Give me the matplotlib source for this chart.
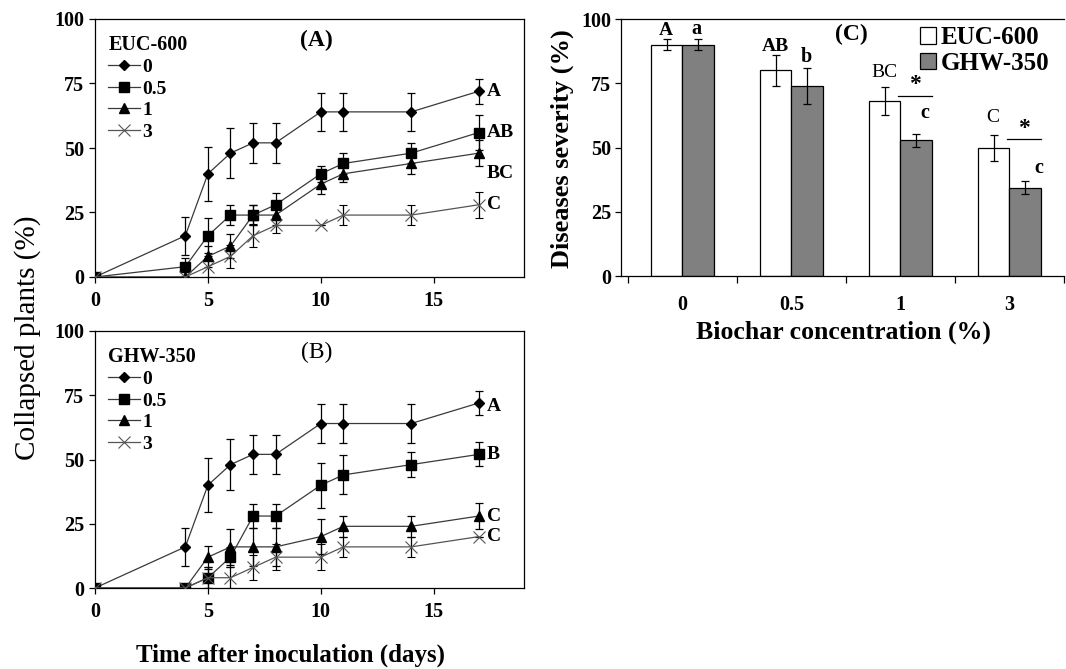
import matplotlib
matplotlib.use('Agg')
import matplotlib.pyplot as plt
from matplotlib.lines import Line2D
from matplotlib.patches import Patch
import numpy as np

plt.rcParams['font.family'] = ['Liberation Serif', 'DejaVu Serif']
plt.rcParams['font.weight'] = 'bold'
plt.rcParams['axes.linewidth'] = 0.9

# ---------------- data ----------------
days = [0, 4, 5, 6, 7, 8, 10, 11, 14, 17]
dose_labels = ['0', '0.5', '1', '3']

# EUC-600 (panel A), collapsed plants (%)
euc_0 = [0, 16, 40, 48, 52, 52, 64, 64, 64, 72]
euc_0_err = [0, 7.3, 10.5, 9.8, 7.7, 7.7, 7.5, 7.5, 7.5, 4.8]
euc_05 = [0, 4, 16, 24, 24, 28, 40, 44, 48, 56]
euc_05_err = [0, 3.5, 6.8, 4, 4, 4.5, 3, 4, 4, 6.6]
euc_1 = [0, 0, 8, 12, 24, 24, 36, 40, 44, 48]
euc_1_err = [0, 0, 4, 4.5, 4, 4, 3.7, 3, 4, 5]
euc_3 = [0, 0, 4, 8, 16, 20, 20, 24, 24, 28]
euc_3_err = [0, 0, 4, 4.5, 4.5, 3, 0, 4, 4, 5]
euc_letters = ['A', 'AB', 'BC', 'C']

# GHW-350 (panel B), collapsed plants (%)
ghw_0 = [0, 16, 40, 48, 52, 52, 64, 64, 64, 72]
ghw_0_err = [0, 7.3, 10.5, 9.8, 7.7, 7.7, 7.5, 7.5, 7.5, 4.8]
ghw_05 = [0, 0, 4, 12, 28, 28, 40, 44, 48, 52]
ghw_05_err = [0, 0, 4, 4, 4.5, 4.5, 8.8, 7.6, 5, 4.7]
ghw_1 = [0, 0, 12, 16, 16, 16, 20, 24, 24, 28]
ghw_1_err = [0, 0, 4.5, 7, 7.5, 7.5, 6.7, 4, 4, 5]
ghw_3 = [0, 0, 4, 4, 8, 12, 12, 16, 16, 20]
ghw_3_err = [0, 0, 4, 4, 4.7, 5, 5, 4, 4, 0]
ghw_letters = ['A', 'B', 'C', 'C']

# Panel C, disease severity (%)
conc_labels = ['0', '0.5', '1', '3']
sev_euc = [90, 80, 68, 49.8]
sev_euc_err = [2.2, 6, 5.5, 5]
sev_ghw = [90, 74, 52.8, 34.4]
sev_ghw_err = [2.2, 7, 2.6, 2.6]
sev_euc_letters = ['A', 'AB', 'BC', 'C']
sev_ghw_letters = ['a', 'b', 'c', 'c']
star_flags = [False, False, True, True]

# ---------------- figure ----------------
W, H = 1066, 669
fig = plt.figure(figsize=(W / 100, H / 100), dpi=100)


def fax(l, t, r, b):
    return fig.add_axes([l / W, 1 - b / H, (r - l) / W, (b - t) / H])


axA = fax(95, 19, 524, 277)
axB = fax(95, 331, 524, 588)
axC = fax(621, 19, 1064, 276)

styles = [
    dict(marker='D', ms=4.8, mfc='black', mec='black', color='#3a3a3a'),
    dict(marker='s', ms=7.2, mfc='black', mec='black', color='#3a3a3a'),
    dict(marker='^', ms=7, mfc='black', mec='black', color='#3a3a3a'),
    dict(marker='x', ms=8.5, mew=0.8, mec='#555555', color='#555555'),
]


def line_panel(ax, series, errs, letters, letter_dy, title, title_bold, legend_title):
    for s, e, st in zip(series, errs, styles):
        ax.errorbar(days, s, yerr=e, lw=0.9, elinewidth=0.9, ecolor='black',
                    capsize=3, capthick=0.9, zorder=3, **st)
    ax.set_xlim(0, 19)
    ax.set_ylim(0, 100)
    ax.set_xticks([0, 5, 10, 15])
    ax.set_yticks([0, 25, 50, 75, 100])
    ax.tick_params(direction='out', length=4, width=0.9, labelsize=14.5)
    ax.tick_params(axis='x', pad=6)
    ax.tick_params(axis='y', pad=4)
    for lab, s, dy in zip(letters, series, letter_dy):
        ax.text(17.35, s[-1] + dy, lab, ha='left', va='center', fontsize=14,
                fontweight='bold')
    ax.text(9.8, 91.5, title, ha='center', va='center', fontsize=17,
            fontweight='bold' if title_bold else 'normal')
    handles = [Line2D([], [], lw=0.9, **st) for st in styles]
    ax.legend(handles, dose_labels, title=legend_title, loc='upper left',
              bbox_to_anchor=(-0.005, 1.0), frameon=False,
              handlelength=1.6, handletextpad=0.15, labelspacing=0.2,
              borderpad=0.3, prop=dict(size=14, weight='bold'),
              title_fontproperties=dict(size=14.5, weight='bold'),
              alignment='left')


line_panel(axA, [euc_0, euc_05, euc_1, euc_3],
           [euc_0_err, euc_05_err, euc_1_err, euc_3_err],
           euc_letters, [0, 0, -8, 0], '(A)', True, 'EUC-600')
line_panel(axB, [ghw_0, ghw_05, ghw_1, ghw_3],
           [ghw_0_err, ghw_05_err, ghw_1_err, ghw_3_err],
           ghw_letters, [-1.5, 0, 0, 0], '(B)', False, 'GHW-350')

# ---------------- panel C ----------------
x = np.arange(len(conc_labels))
bw = 0.29
axC.bar(x - bw / 2, sev_euc, bw, yerr=sev_euc_err, color='white', edgecolor='black',
        linewidth=0.9, capsize=3, error_kw=dict(elinewidth=0.9, capthick=0.9),
        label='EUC-600')
axC.bar(x + bw / 2, sev_ghw, bw, yerr=sev_ghw_err, color='#808080', edgecolor='black',
        linewidth=0.9, capsize=3, error_kw=dict(elinewidth=0.9, capthick=0.9),
        label='GHW-350')
axC.set_xlim(-0.564, 3.5)
axC.set_ylim(0, 100)
axC.set_yticks([0, 25, 50, 75, 100])
axC.set_xticks(x)
axC.set_xticklabels(conc_labels)
axC.set_xticks(np.arange(-0.5, 3.6, 1.0), minor=True)
axC.tick_params(axis='x', which='major', length=0, labelsize=14.5, pad=14)
axC.tick_params(axis='x', which='minor', direction='out', length=5, width=0.9)
axC.tick_params(axis='y', direction='out', length=4, width=0.9, labelsize=14.5, pad=3)
axC.spines['right'].set_visible(False)

euc_letter_y = [95.6, 89.3, 79, 61.5]
ghw_letter_y = [96.3, 85.4, 63.4, 42]
ghw_letter_dx = [0.13, 0.14, 0.22, 0.27]
for i in range(len(conc_labels)):
    axC.text(x[i] - 0.15, euc_letter_y[i], sev_euc_letters[i], ha='center', va='center',
             fontsize=14, fontweight='bold' if i < 2 else 'normal')
    axC.text(x[i] + ghw_letter_dx[i], ghw_letter_y[i], sev_ghw_letters[i], ha='center',
             va='center', fontsize=14.5, fontweight='bold')
    if star_flags[i]:
        ly = sev_euc[i] + sev_euc_err[i] - 3.5 if i == 2 else sev_euc[i] + sev_euc_err[i] - 1.6
        axC.plot([x[i] - 0.02, x[i] + 0.29], [ly, ly], color='black', lw=0.9)
        axC.text(x[i] + 0.135, ly + 0.3, '*', ha='center', va='bottom', fontsize=17,
                 fontweight='bold')

axC.text(1.55, 93.8, '(C)', ha='center', va='center', fontsize=17, fontweight='bold')
hC = [Patch(facecolor='white', edgecolor='black', lw=0.9),
      Patch(facecolor='#808080', edgecolor='black', lw=0.9)]
axC.legend(hC, ['EUC-600', 'GHW-350'], loc='upper right', bbox_to_anchor=(1.01, 1.045),
           frameon=False, handlelength=0.65, handleheight=0.65, handletextpad=0.2,
           labelspacing=0.1, borderpad=0.25, prop=dict(size=18, weight='bold'))

# ---------------- axis labels ----------------
fig.text(28 / W, 1 - 338 / H, 'Collapsed plants (%)', rotation=90, ha='center',
         va='center', fontsize=21, fontweight='normal')
fig.text(290 / W, 1 - 655 / H, 'Time after inoculation (days)', ha='center',
         va='center', fontsize=18, fontweight='bold')
fig.text(843 / W, 1 - 332 / H, 'Biochar concentration (%)', ha='center',
         va='center', fontsize=18.5, fontweight='bold')
fig.text(562 / W, 1 - 149 / H, 'Diseases severity (%)', rotation=90, ha='center',
         va='center', fontsize=19, fontweight='bold')

fig.savefig('out.png', dpi=100)
